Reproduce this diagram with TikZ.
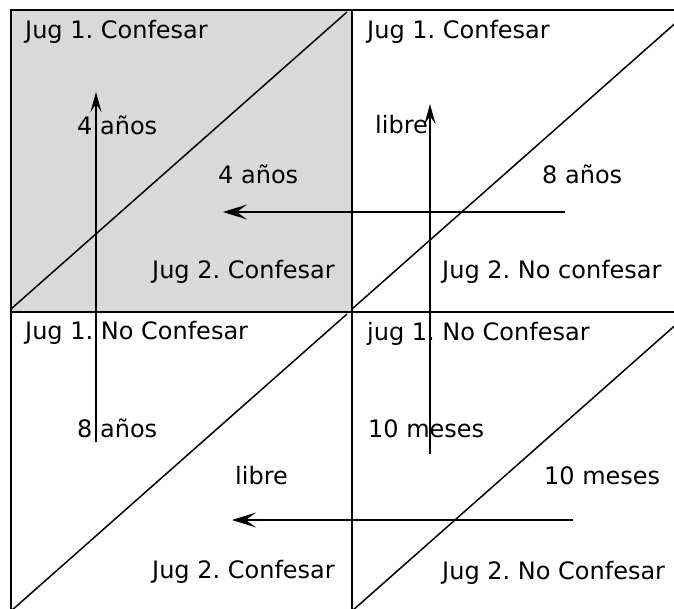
\documentclass[tikz,border=0pt]{standalone}
\usepackage{fontspec}
\setmainfont{DejaVu Sans}
\usetikzlibrary{arrows.meta}
\frenchspacing
\begin{document}
\begin{tikzpicture}[x=1pt,y=-1pt,
  lbl/.style={anchor=base west, inner sep=0pt, font=\fontsize{24}{28}\selectfont},
  frame/.style={line width=2.4pt},
  diag/.style={line width=1.5pt},
  flow/.style={line width=1.8pt},
  hflow/.style={flow, -{Stealth[length=24pt,width=15pt,inset=10pt]}},
  vflow/.style={flow, -{Stealth[length=20pt,width=11pt,inset=8pt]}}]
\useasboundingbox (0,0) rectangle (674,608);
\begin{scope}
\clip (0,0) rectangle (674,608);
\fill[gray!30] (11,10) rectangle (352,312);
% diagonals
\draw[diag] (11,309) -- (347,12);
\draw[diag] (352,309) -- (688,12);
\draw[diag] (11,611) -- (347,314);
\draw[diag] (352,611) -- (688,314);
% frame
\draw[frame] (11,10) rectangle (693,614);
\draw[frame] (352,10) -- (352,614);
\draw[frame] (11,312) -- (693,312);
\end{scope}
% labels
\node[lbl] (a1) at (25,38) {Jug 1. Confesar};
\node[lbl] (a2) at (77,134) {4 años};
\node[lbl] (a3) at (218,183) {4 años};
\node[lbl] (a4) at (152,278) {Jug 2. Confesar};
\node[lbl] (b1) at (367,38) {Jug 1. Confesar};
\node[lbl] (b2) at (375,133) {libre};
\node[lbl] (b3) at (542,183) {8 años};
\node[lbl] (b4) at (442,278) {Jug 2. No confesar};
\node[lbl] (c1) at (25,339) {Jug 1. No Confesar};
\node[lbl] (c2) at (77,437) {8 años};
\node[lbl] (c3) at (235,484) {libre};
\node[lbl] (c4) at (152,578) {Jug 2. Confesar};
\node[lbl] (d1) at (367,340) {jug 1. No Confesar};
\node[lbl] (d2) at (368,437) {10 meses};
\node[lbl] (d3) at (544,484) {10 meses};
\node[lbl] (d4) at (442,579) {Jug 2. No Confesar};
% arrows
\coordinate (v1s) at (96,442);
\coordinate (v1e) at (96,92);
\coordinate (v2s) at (430,454);
\coordinate (v2e) at (430,104);
\coordinate (h1s) at (565,212);
\coordinate (h1e) at (223,212);
\coordinate (h2s) at (573,520);
\coordinate (h2e) at (232,520);
\draw[vflow] (v1s) -- (v1e);
\draw[vflow] (v2s) -- (v2e);
\draw[hflow] (h1s) -- (h1e);
\draw[hflow] (h2s) -- (h2e);
\end{tikzpicture}
\end{document}
